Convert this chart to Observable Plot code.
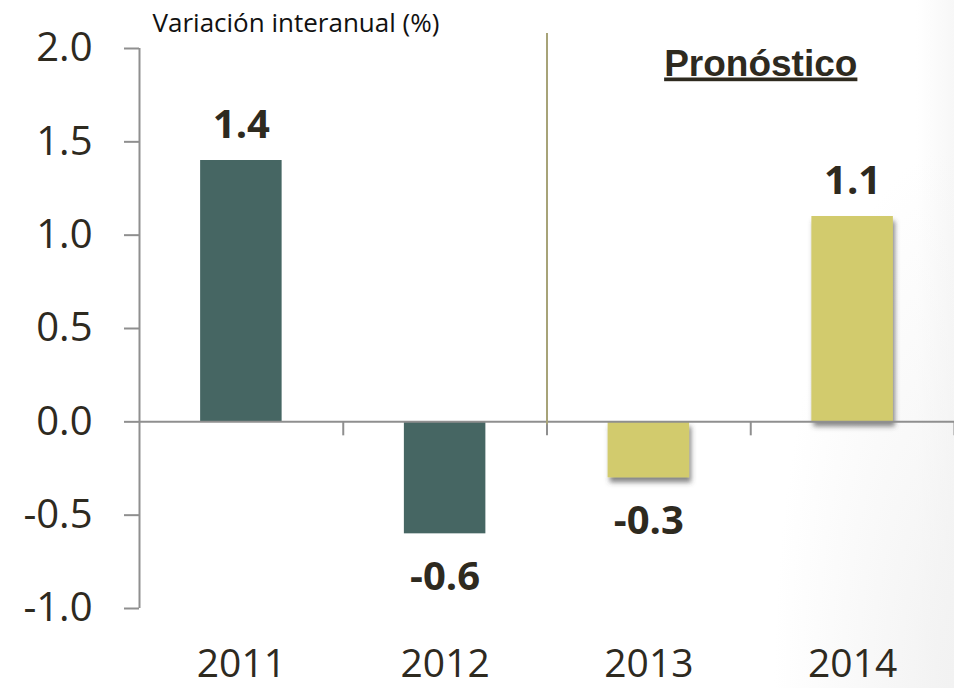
<!DOCTYPE html>
<html>
<head>
<meta charset="utf-8">
<script src="https://cdn.jsdelivr.net/npm/d3@7"></script>
<script src="https://cdn.jsdelivr.net/npm/@observablehq/plot@0.6"></script>
<style>
  html, body { margin: 0; padding: 0; }
  body {
    width: 954px; height: 688px; overflow: hidden;
    background:
      radial-gradient(ellipse 180px 540px at 100% 100%, #f2f2f2 0%, rgba(255,255,255,0) 100%),
      linear-gradient(to left, #f7f7f7 0px, #ffffff 38px);
  }
  #chart { position: relative; }
</style>
</head>
<body>
<div id="chart"></div>
<script>
// ---- data ----
const years = ["2011", "2012", "2013", "2014"];
const values = [1.4, -0.6, -0.3, 1.1];
const isForecast = [false, false, true, true];
const yTicks = [-1, -0.5, 0, 0.5, 1, 1.5, 2];
const yLabel = "Variación interanual (%)";
const forecastLabel = "Pronóstico";

// ---- styles ----
const teal = "#466663";
const yellow = "#d2cb6d";
const axisGray = "#8f8f8f";
const dividerColor = "#a7a378";
const ink = "#2e2a1f";
const halfBar = 0.2; // half bar width in category units

const data = years.map((year, i) => ({ i, year, value: values[i], forecast: isForecast[i] }));
const bounds = years.map((_, i) => i + 0.5);
const firstForecast = isForecast.indexOf(true);
const forecastIdx = data.filter(d => d.forecast).map(d => d.i);
const forecastCenter = d3.mean(forecastIdx);

const chart = Plot.plot({
  width: 954,
  height: 688,
  marginLeft: 139,
  marginRight: 0,
  marginTop: 48,
  marginBottom: 80,
  style: { fontFamily: "'Open Sans', sans-serif", color: ink, background: "transparent", overflow: "visible" },
  x: { domain: [-0.5, years.length - 0.5], axis: null },
  y: { domain: [d3.min(yTicks), d3.max(yTicks)], axis: null },
  marks: [
    Plot.rectY(data.filter(d => !d.forecast), {
      x1: d => d.i - halfBar, x2: d => d.i + halfBar, y1: 0, y2: "value", fill: teal
    }),
    Plot.rectY(data.filter(d => d.forecast), {
      x1: d => d.i - halfBar, x2: d => d.i + halfBar, y1: 0, y2: "value", fill: yellow
    }),
    Plot.ruleY([0], { stroke: axisGray, strokeWidth: 2 }),
    Plot.ruleX([-0.5], { y1: d3.min(yTicks), y2: d3.max(yTicks), stroke: axisGray, strokeWidth: 2 }),
    Plot.axisY({
      ticks: yTicks, tickSize: 15, tickPadding: 32, tickFormat: d => d.toFixed(1),
      fontSize: 40, stroke: axisGray, strokeWidth: 2, fill: ink, label: null
    }),
    Plot.ruleX(bounds, { y1: 0, y2: 0, insetBottom: -14, stroke: axisGray, strokeWidth: 2 }),
    Plot.axisX({
      ticks: data.map(d => d.i), tickSize: 0, tickPadding: 41, tickFormat: i => years[i],
      fontSize: 39, fill: ink, label: null
    }),
    Plot.ruleX([firstForecast - 0.5], {
      y1: d3.max(yTicks), y2: 0, insetTop: -15, insetBottom: -3, stroke: dividerColor, strokeWidth: 2
    }),
    Plot.text(data.filter(d => d.value >= 0), {
      x: "i", y: "value", text: d => d.value.toFixed(1), dy: -23, lineAnchor: "bottom",
      fontWeight: "bold", fontSize: 40, fill: ink
    }),
    Plot.text(data.filter(d => d.value < 0), {
      x: "i", y: "value", text: d => d.value.toFixed(1), dy: 28, lineAnchor: "top",
      fontWeight: "bold", fontSize: 40, fill: ink
    }),
    Plot.text([forecastLabel], {
      x: forecastCenter, y: d3.max(yTicks), dx: 10, dy: 27, lineAnchor: "bottom",
      fontFamily: "'Liberation Sans', Arial, sans-serif", fontWeight: "bold", fontSize: 37, fill: ink
    }),
    Plot.text([yLabel], {
      frameAnchor: "top-left", dx: 13, dy: -17, lineAnchor: "bottom", textAnchor: "start",
      fontSize: 26, fill: "#111"
    })
  ]
});

// drop shadow on forecast bars
const svg = d3.select(chart);
const defs = svg.insert("defs", ":first-child");
const f = defs.append("filter").attr("id", "barShadow").attr("x", "-20%").attr("y", "-20%").attr("width", "150%").attr("height", "150%");
f.append("feDropShadow").attr("dx", 2).attr("dy", 5).attr("stdDeviation", 2.5)
  .attr("flood-color", "#444").attr("flood-opacity", 0.65);
svg.selectAll('g[aria-label="rect"]').filter((d, i) => i === 1).attr("filter", "url(#barShadow)");
// underline forecast label
svg.selectAll('g[aria-label="text"] text').filter(function() { return this.textContent === forecastLabel; })
  .style("text-decoration", "underline")
  .style("text-decoration-thickness", "3px");

document.getElementById("chart").append(chart);
</script>
</body>
</html>
